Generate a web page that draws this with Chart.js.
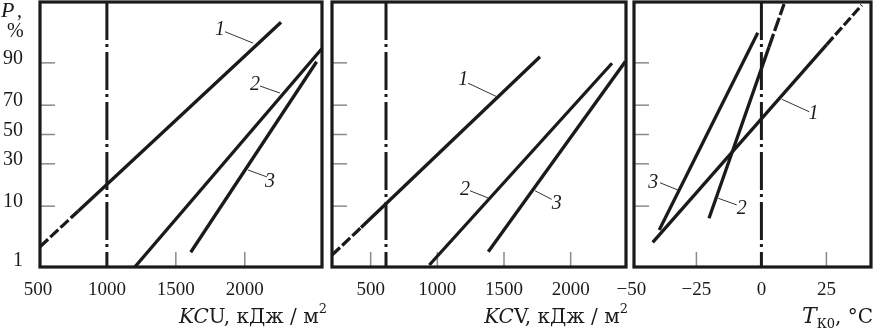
<!DOCTYPE html>
<html>
<head>
<meta charset="utf-8">
<script src="https://cdn.jsdelivr.net/npm/chart.js@4.4.0/dist/chart.umd.min.js"></script>
<style>
  html, body { margin: 0; padding: 0; background: #fff; }
  #wrap { position: relative; width: 877px; height: 332px; }
  #wrap canvas { position: absolute; left: 0; top: 0; }
</style>
</head>
<body>
<div id="wrap">
  <canvas id="kcuChart" width="877" height="332"></canvas>
  <canvas id="kcvChart" width="877" height="332"></canvas>
  <canvas id="tkChart" width="877" height="332"></canvas>
</div>
<script>
// probability axis (P, %)
const probTicks = [1, 10, 30, 50, 70, 90]

// KCU panel: [KCU, P%]
const kcuTicks = [500, 1000, 1500, 2000]
const kcuCurve1Dash = [[515, 2.24], [791, 8.5]]
const kcuCurve1 = [[791, 8.5], [2263, 97.76]]
const kcuCurve2 = [[1204, 0.9], [2560, 93.8]]
const kcuCurve3 = [[1608, 1.76], [2521, 90.35]]
const kcuLimit = 1000

// KCV panel
const kcvTicks = [500, 1000, 1500, 2000]
const kcvCurve1Dash = [[210, 1.55], [428, 4.8]]
const kcvCurve1 = [[428, 4.8], [1770, 91.8]]
const kcvCurve2 = [[940, 0.98], [2310, 89.87]]
const kcvCurve3 = [[1382, 1.8], [2410, 90.4]]
const kcvLimit = 615

// T_K0 panel
const tkTicks = [-50, -25, 0, 25]
const tkCurve1 = [[-41.8, 2.69], [25.1, 94.59]]
const tkCurve1Dash = [[25.1, 94.59], [38.6, 98.97]]
const tkCurve2 = [[-20.15, 6.69], [2.9, 94.1]]
const tkCurve2Dash = [[2.9, 94.1], [8.7, 99.02]]
const tkCurve3 = [[-39.3, 4.38], [-1.4, 96.57]]
const tkLimit = 0

// curve numbers with leader lines, in data units
const kcuNotes = [
  { text: "1", at: [1820, 96.9], lead: [[1857, 96.7], [2060, 94.9]] },
  { text: "2", at: [2074, 81.2], lead: [[2110, 80.7], [2255, 77.1]] },
  { text: "3", at: [2183, 19.8], lead: [[2161, 22.4], [2023, 26.3]] },
]
const kcvNotes = [
  { text: "1", at: [1195, 83.5], lead: [[1230, 82.1], [1445, 75.1]] },
  { text: "2", at: [1207, 16.0], lead: [[1245, 15.7], [1382, 12.8]] },
  { text: "3", at: [1895, 10.7], lead: [[1858, 12.3], [1733, 15.7]] },
]
const tkNotes = [
  { text: "3", at: [-41.6, 19.4], lead: [[-39.0, 19.4], [-32.0, 16.0]] },
  { text: "2", at: [-7.6, 9.3], lead: [[-9.5, 10.4], [-16.6, 12.7]] },
  { text: "1", at: [20.0, 64.8], lead: [[18.4, 65.8], [7.8, 73.6]] },
]

const Z_MIN = -2.37
const Z_MAX = 2.37
const INK = "#1a1a1a"
const SERIF = "'Liberation Serif', serif"
const TITLE_SERIF = "'DejaVu Serif', serif"

// inverse normal CDF (Acklam), percent -> z
function probit(pct) {
  const p = pct / 100
  const a = [-3.969683028665376e+01, 2.209460984245205e+02, -2.759285104469687e+02, 1.383577518672690e+02, -3.066479806614716e+01, 2.506628277459239e+00]
  const b = [-5.447609879822406e+01, 1.615858368580409e+02, -1.556989798598866e+02, 6.680131188771972e+01, -1.328068155288572e+01]
  const c = [-7.784894002430293e-03, -3.223964580411365e-01, -2.400758277161838e+00, -2.549732539343734e+00, 4.374664141464968e+00, 2.938163982698783e+00]
  const d = [7.784695709041462e-03, 3.224671290700398e-01, 2.445134137142996e+00, 3.754408661907416e+00]
  const plow = 0.02425
  if (p < plow) {
    const q = Math.sqrt(-2 * Math.log(p))
    return (((((c[0] * q + c[1]) * q + c[2]) * q + c[3]) * q + c[4]) * q + c[5]) / ((((d[0] * q + d[1]) * q + d[2]) * q + d[3]) * q + 1)
  }
  if (p > 1 - plow) {
    const q = Math.sqrt(-2 * Math.log(1 - p))
    return -(((((c[0] * q + c[1]) * q + c[2]) * q + c[3]) * q + c[4]) * q + c[5]) / ((((d[0] * q + d[1]) * q + d[2]) * q + d[3]) * q + 1)
  }
  const q = p - 0.5
  const r = q * q
  return (((((a[0] * r + a[1]) * r + a[2]) * r + a[3]) * r + a[4]) * r + a[5]) * q / (((((b[0] * r + b[1]) * r + b[2]) * r + b[3]) * r + b[4]) * r + 1)
}

function toPoints(pairs) {
  return pairs.map(([x, p]) => ({ x: x, y: probit(p) }))
}

function drawParts(ctx, parts, right, baseline) {
  let total = 0
  parts.forEach((part) => {
    ctx.font = part.font
    part.w = ctx.measureText(part.t).width
    total += part.w
  })
  let x = right - total
  parts.forEach((part) => {
    ctx.font = part.font
    ctx.fillText(part.t, x, baseline + (part.dy || 0))
    x += part.w
  })
}

const framePlugin = {
  id: "frame",
  beforeDatasetsDraw(chart, args, opts) {
    const { ctx, chartArea: a, scales } = chart
    ctx.save()
    ctx.strokeStyle = "#8a8a8a"
    ctx.lineWidth = 1.5
    probTicks.forEach((p) => {
      const y = scales.y.getPixelForValue(probit(p))
      if (y >= a.bottom - 3) return
      ctx.beginPath()
      ctx.moveTo(a.left, y)
      ctx.lineTo(a.left + 15, y)
      ctx.stroke()
    })
    opts.xTicks.forEach((v) => {
      const x = scales.x.getPixelForValue(v)
      if (x <= a.left + 3 || x >= a.right - 3) return
      ctx.beginPath()
      ctx.moveTo(x, a.bottom)
      ctx.lineTo(x, a.bottom - 15)
      ctx.stroke()
    })
    ctx.restore()
  },
  afterDatasetsDraw(chart, args, opts) {
    const { ctx, chartArea: a, scales } = chart
    ctx.save()
    // leader lines and curve numbers
    ctx.strokeStyle = "#333"
    ctx.lineWidth = 1
    ctx.fillStyle = INK
    ctx.font = "italic 20px " + SERIF
    ctx.textAlign = "center"
    ctx.textBaseline = "middle"
    opts.notes.forEach((n) => {
      const [p0, p1] = n.lead
      ctx.beginPath()
      ctx.moveTo(scales.x.getPixelForValue(p0[0]), scales.y.getPixelForValue(probit(p0[1])))
      ctx.lineTo(scales.x.getPixelForValue(p1[0]), scales.y.getPixelForValue(probit(p1[1])))
      ctx.stroke()
      ctx.fillText(n.text, scales.x.getPixelForValue(n.at[0]), scales.y.getPixelForValue(probit(n.at[1])))
    })
    // frame
    ctx.strokeStyle = INK
    ctx.lineWidth = 3.2
    ctx.strokeRect(a.left, a.top, a.right - a.left, a.bottom - a.top)
    ctx.restore()
  },
  afterDraw(chart, args, opts) {
    const { ctx, chartArea: a } = chart
    ctx.save()
    ctx.fillStyle = INK
    ctx.textAlign = "left"
    ctx.textBaseline = "alphabetic"
    drawParts(ctx, opts.title, a.right + opts.titleShift, 323)
    if (opts.yTitle) {
      ctx.font = "italic 22px " + SERIF
      ctx.fillText("P", 1, 17)
      ctx.font = "20px " + SERIF
      ctx.fillText(",", 17, 17)
      ctx.fillText("%", 7, 37)
    }
    ctx.restore()
  },
}

function buildPanel(id, p) {
  const lines = p.curves.map((c) => ({
    data: toPoints(c.pts),
    borderColor: INK,
    borderWidth: 3.3,
    borderDash: c.dash || [],
    borderCapStyle: "butt",
    pointRadius: 0,
    showLine: true,
    fill: false,
  }))
  lines.push({
    data: [{ x: p.limit, y: Z_MAX }, { x: p.limit, y: Z_MIN }],
    borderColor: INK,
    borderWidth: 3,
    borderDash: [38, 4, 3, 5],
    borderCapStyle: "butt",
    pointRadius: 0,
    showLine: true,
    fill: false,
  })

  new Chart(document.getElementById(id), {
    type: "scatter",
    data: { datasets: lines },
    options: {
      responsive: false,
      animation: false,
      events: [],
      layout: {
        padding: { left: p.yAxis ? 0 : p.left, right: 877 - p.right, top: 2, bottom: 0 },
      },
      plugins: {
        legend: { display: false },
        tooltip: { enabled: false },
        frame: { xTicks: p.ticks, notes: p.notes, title: p.title, titleShift: p.titleShift, yTitle: p.yAxis },
      },
      scales: {
        x: {
          type: "linear",
          min: p.min,
          max: p.max,
          afterBuildTicks: (axis) => {
            axis.ticks = p.ticks.map((v) => ({ value: v }))
          },
          afterFit: (axis) => {
            axis.height = 65
            axis.paddingLeft = 0
            axis.paddingRight = 0
          },
          grid: { display: false, drawTicks: false },
          border: { display: false },
          ticks: {
            autoSkip: false,
            maxRotation: 0,
            padding: 12,
            color: INK,
            font: { family: SERIF, size: 19 },
            callback: (v) => (v < 0 ? "\u2212" + Math.abs(v) : String(v)),
          },
        },
        y: {
          type: "linear",
          display: p.yAxis,
          min: Z_MIN,
          max: Z_MAX,
          afterBuildTicks: (axis) => {
            axis.ticks = probTicks.map((v) => ({ value: probit(v) }))
          },
          afterFit: (axis) => {
            axis.width = p.yAxis ? 40 : 0
            axis.paddingTop = 0
            axis.paddingBottom = 0
          },
          grid: { display: false, drawTicks: false },
          border: { display: false },
          ticks: {
            autoSkip: false,
            padding: 17,
            labelOffset: -4,
            color: INK,
            font: { family: SERIF, size: 20 },
            callback: (v, i) => String(probTicks[i]),
          },
        },
      },
    },
    plugins: [framePlugin],
  })
}

const italic = "italic 20px " + TITLE_SERIF
const upright = "20px " + TITLE_SERIF
const small = "13px " + TITLE_SERIF

buildPanel("kcuChart", {
  left: 40, right: 322, min: 515, max: 2560, yAxis: true,
  ticks: kcuTicks, limit: kcuLimit, notes: kcuNotes, titleShift: 5,
  curves: [
    { pts: kcuCurve1Dash, dash: [11, 3] },
    { pts: kcuCurve1 },
    { pts: kcuCurve2 },
    { pts: kcuCurve3 },
  ],
  title: [
    { t: "KC", font: italic },
    { t: "U, кДж / м", font: upright },
    { t: "2", font: small, dy: -10 },
  ],
})

buildPanel("kcvChart", {
  left: 332, right: 626, min: 210, max: 2415, yAxis: false,
  ticks: kcvTicks, limit: kcvLimit, notes: kcvNotes, titleShift: 2,
  curves: [
    { pts: kcvCurve1Dash, dash: [11, 3] },
    { pts: kcvCurve1 },
    { pts: kcvCurve2 },
    { pts: kcvCurve3 },
  ],
  title: [
    { t: "KC", font: italic },
    { t: "V, кДж / м", font: upright },
    { t: "2", font: small, dy: -10 },
  ],
})

buildPanel("tkChart", {
  left: 634, right: 871, min: -49, max: 42.15, yAxis: false,
  ticks: tkTicks, limit: tkLimit, notes: tkNotes, titleShift: 2,
  curves: [
    { pts: tkCurve1 },
    { pts: tkCurve1Dash, dash: [10, 3] },
    { pts: tkCurve2 },
    { pts: tkCurve2Dash, dash: [14, 3] },
    { pts: tkCurve3 },
  ],
  title: [
    { t: "T", font: "italic 22px " + TITLE_SERIF },
    { t: "К0", font: small, dy: 5 },
    { t: ", °C", font: upright },
  ],
})
</script>
</body>
</html>
